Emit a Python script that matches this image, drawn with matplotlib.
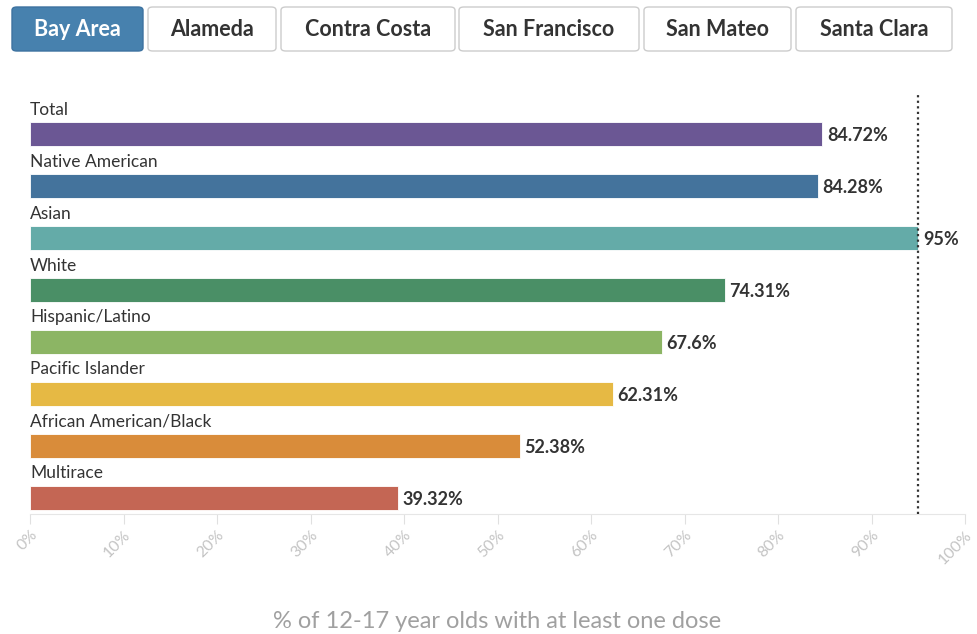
import matplotlib.pyplot as plt
from matplotlib.patches import FancyBboxPatch

groups = ["Total", "Native American", "Asian", "White", "Hispanic/Latino",
          "Pacific Islander", "African American/Black", "Multirace"]
values = [84.72, 84.28, 95, 74.31, 67.6, 62.31, 52.38, 39.32]
value_labels = ["84.72%", "84.28%", "95%", "74.31%", "67.6%", "62.31%", "52.38%", "39.32%"]
colors = ["#6b5794", "#44739c", "#64aba8", "#4a8f66", "#8cb564",
          "#e6b944", "#d98c3a", "#c46654"]
ticks = list(range(0, 101, 10))
target = 95

buttons = ["Bay Area", "Alameda", "Contra Costa", "San Francisco", "San Mateo", "Santa Clara"]
btn_x = [12, 148, 281, 459, 644, 796]
btn_w = [131, 128, 174, 180, 147, 156]

plt.rcParams['font.family'] = ['Lato', 'DejaVu Sans']

W, H = 978, 634
fig = plt.figure(figsize=(W / 100, H / 100), dpi=100)
ax = fig.add_axes([30 / W, 1 - 514 / H, 935 / W, 419 / H])

y = list(range(len(groups)))
ax.barh(y, values, height=0.46, color=colors, edgecolor="white", linewidth=0.6)
for yi, v, g, lab in zip(y, values, groups, value_labels):
    ax.text(0, yi - 0.47, g, ha="left", va="center", fontsize=12.5, color="#333333")
    ax.text(v + 0.5, yi + 0.03, lab, ha="left", va="center", fontsize=13,
            fontweight="bold", color="#333333")

ax.axvline(target, color="#333333", linestyle=(0, (1, 1.5)), linewidth=1.6, zorder=3)

ax.set_xlim(0, 100)
ax.set_ylim(7.31, -0.75)
ax.set_yticks([])
ax.set_xticks(ticks)
ax.set_xticklabels([f"{t}%" for t in ticks], rotation=45, ha="right",
                   rotation_mode="anchor", fontsize=11.5, color="#c4c4c4")
ax.tick_params(axis="x", length=7, color="#e0e0e0", pad=3)
for s in ["top", "right", "left"]:
    ax.spines[s].set_visible(False)
ax.spines["bottom"].set_color("#e6e6e6")
ax.set_xlabel("% of 12-17 year olds with at least one dose", fontsize=17,
              color="#a0a0a0", labelpad=32)

# county selector buttons
for i, (name, bx, bw) in enumerate(zip(buttons, btn_x, btn_w)):
    active = i == 0
    patch = FancyBboxPatch((bx / W, 1 - 51 / H), bw / W, 44 / H,
                           boxstyle="round,pad=0,rounding_size=0.005",
                           transform=fig.transFigure,
                           facecolor="#4781ae" if active else "white",
                           edgecolor="#3d72a0" if active else "#cccccc",
                           linewidth=1.0)
    fig.patches.append(patch)
    fig.text((bx + bw / 2) / W, 1 - 29 / H, name, ha="center", va="center",
             fontsize=15.5, fontweight="bold",
             color="white" if active else "#333333")

fig.savefig("out.png", dpi=100)
